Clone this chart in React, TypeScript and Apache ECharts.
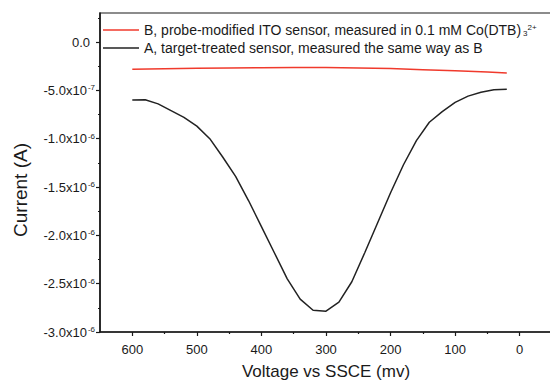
import React, { useEffect, useRef } from "react";
import * as echarts from "echarts";

// Curve A: target-treated sensor (black)
const voltageA = [600, 580, 560, 540, 520, 500, 480, 460, 440, 420, 400, 380, 360, 340, 320, 300, 280, 260, 240, 220, 200, 180, 160, 140, 120, 100, 80, 60, 40, 20];
const currentA = [-6.0e-7, -5.97e-7, -6.4e-7, -7.1e-7, -7.8e-7, -8.7e-7, -1.0e-6, -1.19e-6, -1.39e-6, -1.64e-6, -1.91e-6, -2.18e-6, -2.45e-6, -2.66e-6, -2.775e-6, -2.785e-6, -2.69e-6, -2.48e-6, -2.18e-6, -1.87e-6, -1.56e-6, -1.27e-6, -1.02e-6, -8.3e-7, -7.2e-7, -6.25e-7, -5.6e-7, -5.2e-7, -4.95e-7, -4.88e-7];

// Curve B: probe-modified ITO sensor (red)
const voltageB = [600, 550, 500, 450, 400, 350, 300, 250, 200, 150, 100, 50, 20];
const currentB = [-2.82e-7, -2.76e-7, -2.72e-7, -2.68e-7, -2.66e-7, -2.65e-7, -2.65e-7, -2.69e-7, -2.75e-7, -2.86e-7, -2.98e-7, -3.1e-7, -3.2e-7];

const nameB = "B, probe-modified ITO sensor, measured in 0.1 mM Co(DTB)";
const nameA = "A, target-treated sensor, measured the same way as B";

const xMajorTicks = [600, 500, 400, 300, 200, 100, 0];
const xMinorTicks = [550, 450, 350, 250, 150, 50];
const yMajorTicks = [0, -5e-7, -1e-6, -1.5e-6, -2e-6, -2.5e-6, -3e-6];
const yMinorTicks = [2.5e-7, -2.5e-7, -7.5e-7, -1.25e-6, -1.75e-6, -2.25e-6, -2.75e-6];

const FONT = "'Liberation Sans', Arial, sans-serif";
const INK = "#1a1a1a";
const LINE_ICON = "path://M0,0L36,0L36,1.5L0,1.5Z";

function yLabel(v: number): string {
  const n = Math.round(v * 1e7);
  if (n === 0) return "{zero|0.0}";
  let m: string;
  let e: string;
  if (Math.abs(n) < 10) {
    m = n.toFixed(1);
    e = "-7";
  } else {
    m = (n / 10).toFixed(1);
    e = "-6";
  }
  return `{b|${m}x10}{sup|${e}}`;
}

export default function App() {
  const ref = useRef<HTMLDivElement>(null);
  useEffect(() => {
    if (!ref.current) return;
    const chart = echarts.init(ref.current, null, { renderer: "svg" });
    const gridRect = { left: 100, top: 13, width: 452, height: 319, containLabel: false, outerBoundsMode: "none" };
    const xCommon = {
      type: "value" as const,
      inverse: true,
      min: -50,
      max: 650,
      position: "bottom" as const,
      splitLine: { show: false },
    };
    const yCommon = {
      type: "value" as const,
      min: -3e-6,
      max: 3e-7,
      position: "left" as const,
      splitLine: { show: false },
    };
    chart.setOption({
      animation: false,
      backgroundColor: "#ffffff",
      grid: [
        { ...gridRect, show: true, borderColor: INK, borderWidth: 1.2 },
        { ...gridRect, show: false },
      ],
      legend: {
        orient: "vertical",
        left: 103,
        top: 23,
        padding: 0,
        itemGap: 4,
        itemWidth: 36,
        itemHeight: 14,
        icon: LINE_ICON,
        data: [nameB, nameA],
        formatter: (name: string) => (name === nameB ? `${name}{sub|3}{sup|2+}` : name),
        textStyle: {
          fontFamily: FONT,
          fontSize: 14,
          color: INK,
          lineHeight: 14,
          rich: {
            sub: { fontFamily: FONT, fontSize: 8, color: INK, verticalAlign: "bottom", lineHeight: 1, padding: [0, 0, 0, 2] },
            sup: { fontFamily: FONT, fontSize: 8, color: INK, verticalAlign: "top", lineHeight: 1 },
          },
        },
      },
      xAxis: [
        {
          ...xCommon,
          gridIndex: 0,
          name: "Voltage vs SSCE (mv)",
          nameLocation: "middle",
          nameGap: 31,
          nameTextStyle: { fontFamily: FONT, fontSize: 17, color: INK },
          axisLine: { show: true, onZero: false, lineStyle: { color: INK, width: 1.6 } },
          axisTick: { show: true, length: 4, customValues: xMajorTicks, lineStyle: { color: INK, width: 1.2 } },
          axisLabel: {
            show: true,
            customValues: xMajorTicks,
            margin: 11,
            fontFamily: FONT,
            fontSize: 13,
            color: INK,
            formatter: (v: number) => String(Math.round(v)),
          },
        },
        {
          ...xCommon,
          gridIndex: 1,
          axisLine: { show: false, onZero: false },
          axisTick: { show: true, inside: false, length: 2, customValues: xMinorTicks, lineStyle: { color: INK, width: 1.2 } },
          axisLabel: { show: false },
        },
      ],
      yAxis: [
        {
          ...yCommon,
          gridIndex: 0,
          axisLine: { show: true, onZero: false, lineStyle: { color: INK, width: 1.6 } },
          axisTick: { show: true, length: 4, customValues: yMajorTicks, lineStyle: { color: INK, width: 1.2 } },
          axisLabel: {
            show: true,
            customValues: yMajorTicks,
            margin: 5,
            fontFamily: FONT,
            fontSize: 13,
            color: INK,
            formatter: (v: number) => yLabel(v),
            rich: {
              b: { fontFamily: FONT, fontSize: 13, color: INK, lineHeight: 13 },
              zero: { fontFamily: FONT, fontSize: 13, color: INK, lineHeight: 13, padding: [0, 5, 0, 0] },
              sup: { fontFamily: FONT, fontSize: 8, color: INK, verticalAlign: "top", lineHeight: 6, padding: [0, 0, 0, 1] },
            },
          },
        },
        {
          ...yCommon,
          gridIndex: 1,
          axisLine: { show: false, onZero: false },
          axisTick: { show: true, inside: false, length: 2, customValues: yMinorTicks, lineStyle: { color: INK, width: 1.2 } },
          axisLabel: { show: false },
        },
      ],
      graphic: [
        {
          type: "text",
          x: 20,
          y: 190,
          rotation: Math.PI / 2,
          style: {
            text: "Current (A)",
            fontFamily: FONT,
            fontSize: 19,
            fill: INK,
            textAlign: "center",
            textVerticalAlign: "middle",
          },
        },
      ],
      series: [
        {
          name: nameB,
          type: "line",
          xAxisIndex: 0,
          yAxisIndex: 0,
          symbol: "none",
          data: voltageB.map((v, i) => [v, currentB[i]]),
          lineStyle: { color: "#f03a2c", width: 1.5 },
          itemStyle: { color: "#f03a2c" },
          z: 3,
        },
        {
          name: nameA,
          type: "line",
          xAxisIndex: 0,
          yAxisIndex: 0,
          symbol: "none",
          data: voltageA.map((v, i) => [v, currentA[i]]),
          lineStyle: { color: "#222222", width: 1.5 },
          itemStyle: { color: "#222222" },
          z: 3,
        },
      ],
    });
    return () => chart.dispose();
  }, []);
  return (
    <div
      ref={ref}
      style={{ position: "absolute", left: 0, top: 0, width: 550, height: 381, background: "#fff" }}
    />
  );
}
